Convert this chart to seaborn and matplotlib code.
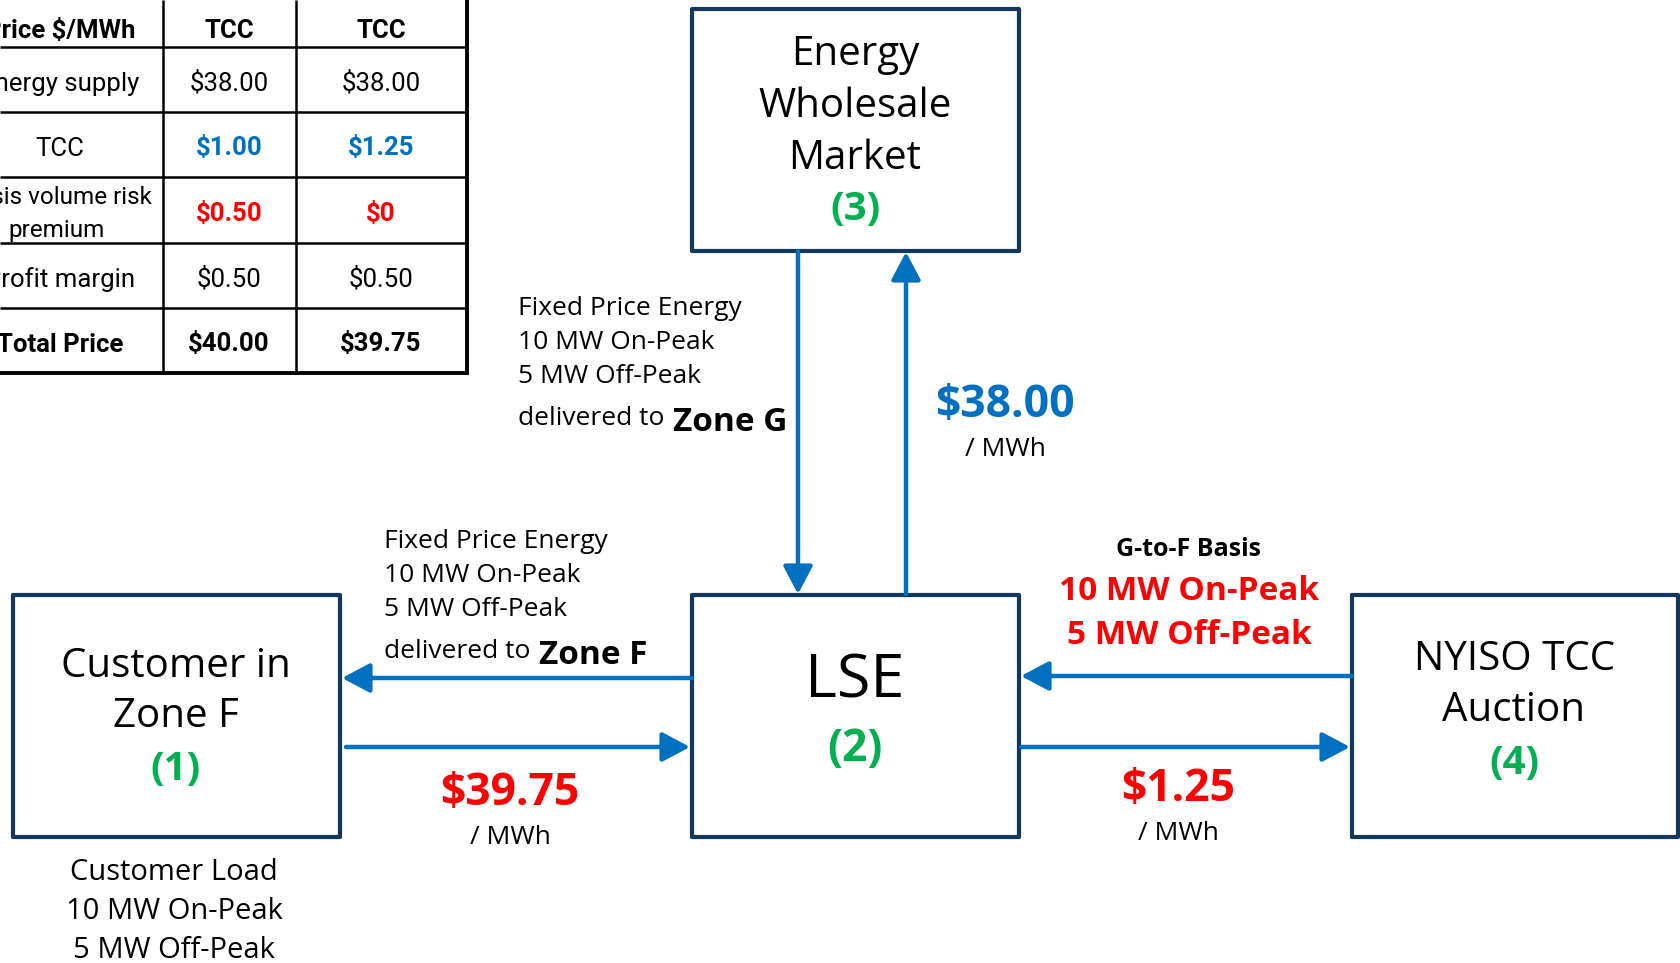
import matplotlib
matplotlib.use("Agg")
import matplotlib.pyplot as plt
from matplotlib.patches import Rectangle
import seaborn as sns

# -----------------------------
# Content
# -----------------------------

table_header = ["Price $/MWh", "TCC", "TCC"]
table_rows = ["Energy supply", "TCC", "Basis volume risk\npremium", "Profit margin", "Total Price"]
col_a = ["$38.00", "$1.00", "$0.50", "$0.50", "$40.00"]
col_b = ["$38.00", "$1.25", "$0", "$0.50", "$39.75"]
row_colors = ["black", "#0070C0", "#FF0000", "black", "black"]
row_bold = [False, True, True, False, True]

box_names = ["Customer in\nZone F", "LSE", "Energy\nWholesale\nMarket", "NYISO TCC\nAuction"]
box_ids = ["(1)", "(2)", "(3)", "(4)"]

flow_lines = ["Fixed Price Energy", "10 MW On-Peak", "5 MW Off-Peak"]
delivered_g = "Zone G"
delivered_f = "Zone F"
load_lines = ["Customer Load", "10 MW On-Peak", "5 MW Off-Peak"]
basis_title = "G-to-F Basis"
basis_lines = ["10 MW On-Peak", "5 MW Off-Peak"]

price_wholesale = "$38.00"
price_customer = "$39.75"
price_tcc = "$1.25"
unit = "/ MWh"

# -----------------------------
# Style
# -----------------------------

sns.set_theme(style="white")
FONT = ["Open Sans", "DejaVu Sans"]
TFONT = ["Roboto", "DejaVu Sans"]
plt.rcParams["font.family"] = FONT
plt.rcParams["text.color"] = "black"

NAVY = "#14375C"
ARROW = "#0070C0"
GREEN = "#00B050"
RED = "#FF0000"
BLUE = "#0070C0"

fig = plt.figure(figsize=(16.8, 9.63), dpi=100)
ax = fig.add_axes([0, 0, 1, 1])
ax.set_xlim(0, 1680)
ax.set_ylim(963, 0)
ax.axis("off")

# -----------------------------
# Table (top left, cropped)
# -----------------------------

col_x = [163, 296, 467]
col_c = [60, 229, 381]
row_y = [47, 112, 177, 243, 308, 373]

for y in row_y[:-1]:
    ax.plot([0, col_x[2]], [y, y], color="black", lw=1.8, solid_capstyle="butt")
ax.plot([0, col_x[2] + 1.5], [row_y[-1], row_y[-1]], color="black", lw=2.8, solid_capstyle="butt")
for x in col_x[:2]:
    ax.plot([x, x], [0, row_y[-1]], color="black", lw=1.8, solid_capstyle="butt")
ax.plot([col_x[2], col_x[2]], [0, row_y[-1]], color="black", lw=2.8, solid_capstyle="butt")

for cx, h in zip(col_c, table_header):
    ax.text(cx, 31, h, ha="center", va="center", fontsize=18.5, fontweight="bold", family=TFONT)

for i, name in enumerate(table_rows):
    yc = (row_y[i] + row_y[i + 1]) / 2 + 4
    ax.text(col_c[0] - (3 if "\n" in name else 0), yc, name, ha="center", va="center",
            fontsize=17.5 if "\n" in name else 18.5,
            fontweight="bold" if name == "Total Price" else "normal",
            family=TFONT, linespacing=1.55)
    for cx, val in zip(col_c[1:], [col_a[i], col_b[i]]):
        ax.text(cx, yc, val, ha="center", va="center", fontsize=18.5, family=TFONT,
                color=row_colors[i], fontweight="bold" if row_bold[i] else "normal")

# -----------------------------
# Boxes
# -----------------------------

boxes = {
    "cust": (13, 595, 327, 242),
    "lse": (692, 595, 327, 242),
    "whole": (692, 9, 327, 242),
    "nyiso": (1352, 595, 326, 242),
}
for x, y, w, h in boxes.values():
    ax.add_patch(Rectangle((x, y), w, h, fill=False, edgecolor=NAVY, lw=3, joinstyle="round"))

# customer
ax.text(176, 692, box_names[0], ha="center", va="center", fontsize=29, linespacing=1.32)
ax.text(176, 770, box_ids[0], ha="center", va="center", fontsize=29, color=GREEN, fontweight="bold")
# lse
ax.text(855, 681, box_names[1], ha="center", va="center", fontsize=44)
ax.text(855, 749, box_ids[1], ha="center", va="center", fontsize=32, color=GREEN, fontweight="bold")
# wholesale
ax.text(855, 107, box_names[2], ha="center", va="center", fontsize=29, linespacing=1.38)
ax.text(855, 209, box_ids[2], ha="center", va="center", fontsize=29, color=GREEN, fontweight="bold")
# nyiso
ax.text(1514, 685, box_names[3], ha="center", va="center", fontsize=29, linespacing=1.35)
ax.text(1514, 764, box_ids[3], ha="center", va="center", fontsize=29, color=GREEN, fontweight="bold")

# -----------------------------
# Arrows
# -----------------------------

def arrow(x0, y0, x1, y1):
    ax.annotate("", xy=(x1, y1), xytext=(x0, y0),
                arrowprops=dict(arrowstyle="-|>,head_length=0.85,head_width=0.45",
                                color=ARROW, lw=3.2, shrinkA=0, shrinkB=0,
                                mutation_scale=20))

arrow(798, 251, 798, 594)     # wholesale -> LSE
arrow(906, 594, 906, 252)     # LSE -> wholesale
arrow(692, 678, 342, 678)     # LSE -> customer
arrow(346, 747, 690, 747)     # customer -> LSE
arrow(1352, 676, 1021, 676)   # NYISO -> LSE
arrow(1021, 747, 1350, 747)   # LSE -> NYISO

# -----------------------------
# Flow labels
# -----------------------------

def flow_label(x, y0, zone):
    for k, line in enumerate(flow_lines):
        ax.text(x, y0 + k * 34, line, ha="left", va="baseline", fontsize=19)
    t = ax.text(x, y0 + 3 * 34 + 8, "delivered to", ha="left", va="baseline", fontsize=19)
    ax.annotate(zone, xy=(1, 0), xycoords=t, xytext=(6, 0), textcoords="offset points",
                ha="left", va="baseline", fontsize=24, fontweight="bold")

flow_label(518, 315, delivered_g)
flow_label(384, 548, delivered_f)

# prices
ax.text(1005, 405, price_wholesale, ha="center", va="center", fontsize=32, color=BLUE, fontweight="bold")
ax.text(1005, 450, unit, ha="center", va="center", fontsize=19)
ax.text(510, 793, price_customer, ha="center", va="center", fontsize=32, color=RED, fontweight="bold")
ax.text(510, 837, unit, ha="center", va="center", fontsize=19)
ax.text(1178, 790, price_tcc, ha="center", va="center", fontsize=32, color=RED, fontweight="bold")
ax.text(1178, 833, unit, ha="center", va="center", fontsize=19)

# basis label
ax.text(1189, 549, basis_title, ha="center", va="center", fontsize=18, fontweight="bold")
for k, line in enumerate(basis_lines):
    ax.text(1189, 591 + k * 45, line, ha="center", va="center", fontsize=24, color=RED, fontweight="bold")

# customer load
for k, line in enumerate(load_lines):
    ax.text(174, 873 + k * 38.5, line, ha="center", va="center", fontsize=21)

fig.savefig("out.png", dpi=100)
